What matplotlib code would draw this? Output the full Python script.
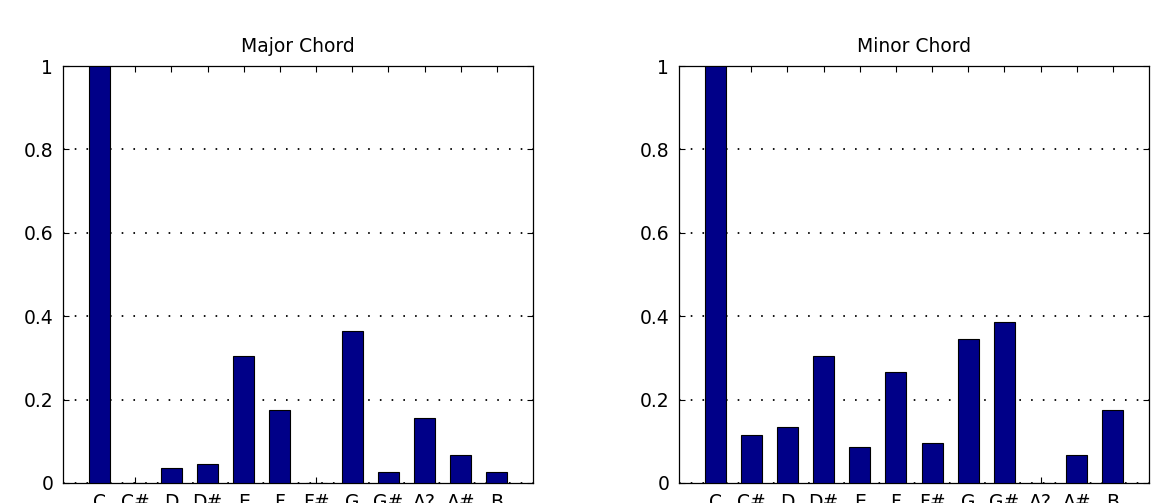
import numpy as np
import matplotlib.pyplot as plt

notes = ["C", "C#", "D", "D#", "E", "F", "F#", "G", "G#", "A?", "A#", "B"]
major_chord = [1.0, 0.0, 0.035, 0.046, 0.305, 0.175, 0.0, 0.365, 0.026, 0.155, 0.066, 0.026]
minor_chord = [1.0, 0.115, 0.135, 0.305, 0.086, 0.266, 0.095, 0.345, 0.385, 0.0, 0.066, 0.175]

bar_color = "#000088"
plt.rcParams["font.family"] = "DejaVu Sans"

fig = plt.figure(figsize=(11.51, 5.03), dpi=100)
ax1 = fig.add_axes([63 / 1151, 20 / 503, 470 / 1151, 417 / 503])
ax2 = fig.add_axes([679 / 1151, 20 / 503, 470 / 1151, 417 / 503])


def chord_plot(ax, values, title):
    x = np.arange(1, len(notes) + 1)
    ax.bar(x, values, width=0.58, color=bar_color, edgecolor="black", linewidth=0.8, zorder=3)
    ax.set_xlim(0, 13)
    ax.set_ylim(0, 1)
    ax.set_xticks(x)
    ax.set_xticklabels(notes)
    ax.set_yticks([0, 0.2, 0.4, 0.6, 0.8, 1])
    ax.set_yticklabels(["0", "0.2", "0.4", "0.6", "0.8", "1"])
    ax.tick_params(direction="in", length=4, width=0.8, top=True, right=True,
                   labelsize=13.5, pad=7, colors="black")
    ax.yaxis.grid(True, color="black", linewidth=1.3, linestyle=(0, (0.9, 5.6)))
    ax.set_axisbelow(True)
    for s in ax.spines.values():
        s.set_linewidth(0.9)
    ax.set_title(title, fontsize=13.5, pad=10)


chord_plot(ax1, major_chord, "Major Chord")
chord_plot(ax2, minor_chord, "Minor Chord")

fig.savefig("out.png", dpi=100)
